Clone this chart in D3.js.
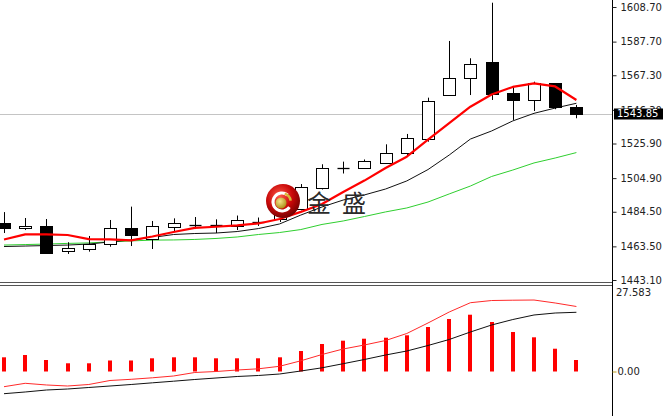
<!DOCTYPE html>
<html><head><meta charset="utf-8">
<script src="https://cdn.jsdelivr.net/npm/d3@7"></script>
<style>html,body{margin:0;padding:0;background:#fff;overflow:hidden}</style>
</head><body>
<svg id="c" width="663" height="416"></svg>
<script>
// ---- data ----
const open  = [1477.9,1474.5,1476.0,1460.3,1462.1,1464.8,1474.8,1468.4,1475.3,1476.3,1476.7,1475.3,1478.0,1480.1,1486.5,1499.1,1511.0,1510.9,1514.4,1520.0,1528.5,1555.3,1565.5,1575.5,1556.5,1552.3,1562.4,1547.9];
const high  = [1484.3,1480.7,1480.1,1466.0,1469.8,1479.5,1487.6,1478.9,1480.5,1481.3,1479.9,1482.2,1481.0,1486.8,1501.3,1513.3,1514.9,1516.2,1525.4,1531.7,1553.7,1588.1,1577.6,1611.3,1560.8,1563.4,1562.4,1549.3];
const low   = [1471.6,1473.4,1458.9,1458.9,1460.3,1463.3,1463.7,1461.9,1472.8,1474.0,1471.6,1473.4,1475.9,1478.3,1485.3,1498.0,1507.7,1510.7,1514.3,1518.1,1527.0,1555.3,1555.3,1552.3,1540.2,1545.6,1546.7,1541.2];
const close = [1474.7,1476.0,1459.9,1462.3,1464.9,1474.8,1470.4,1476.0,1477.5,1476.9,1476.2,1479.2,1478.6,1484.4,1499.8,1511.2,1511.4,1515.2,1520.3,1529.2,1551.7,1565.5,1574.1,1555.9,1552.3,1562.4,1547.6,1543.85];
const maRed   = [1467.7,1470.8,1470.8,1470.4,1467.9,1467.7,1467.1,1469.5,1472.2,1474.7,1475.4,1476.2,1477.4,1480.1,1484.4,1489.2,1496.5,1503.4,1511.0,1517.9,1528.2,1538.3,1548.2,1555.6,1560.2,1562.4,1560.5,1552.3];
const maBlack = [1463.4,1463.7,1464.0,1464.3,1464.9,1466.2,1467.4,1468.9,1470.7,1471.3,1471.6,1472.5,1474.3,1477.1,1482.5,1487.4,1491.6,1494.7,1498.3,1503.2,1510.1,1518.9,1528.6,1533.5,1539.6,1544.2,1547.4,1550.3];
const maGreen = [1464.3,1464.6,1464.9,1465.3,1465.6,1466.2,1466.8,1467.3,1467.4,1467.7,1468.3,1469.2,1470.7,1471.9,1473.7,1476.8,1478.9,1481.6,1484.4,1486.8,1490.4,1495.3,1500.1,1505.9,1509.8,1514.1,1517.1,1520.4];
const oscBars  = [4.58,5.32,3.71,2.65,2.65,3.55,3.55,4.26,4.58,4.58,4.26,4.26,4.26,4.58,6.61,8.87,9.94,10.58,10.90,11.68,14.35,16.94,18.32,15.97,12.74,11.03,7.35,3.71];
const oscRed   = [-4.90,-3.81,-4.35,-4.68,-4.19,-2.90,-2.52,-2.03,-1.45,-0.32,0.00,0.48,0.87,1.68,3.45,5.48,7.26,8.55,10.0,12.26,15.65,19.19,22.19,22.90,23.0,23.06,22.10,20.97];
const oscBlack = [-7.16,-6.61,-5.97,-5.65,-5.16,-4.68,-4.19,-3.65,-3.13,-2.58,-2.10,-1.61,-1.29,-0.81,0.16,1.19,2.52,3.87,5.32,6.61,8.39,10.32,12.74,15.0,16.77,18.23,18.87,19.10];
const priceTicks = [1608.70,1587.70,1567.30,1546.30,1525.90,1504.90,1484.50,1463.50,1443.10];
const oscTicks = [0.00];
const oscMaxLabel = "27.583";
const lastPrice = 1543.85;
const logoText = ["金","盛"];

// ---- drawing ----
const svg = d3.select("#c");
const axisX = 612.5;
const idx = d3.range(open.length);
const x = d3.scaleLinear().domain([0, open.length-1]).range([4, 576.4]);
const y = d3.scaleLinear().domain([1443.1, 1608.7]).range([280, 7]);
const yo = d3.scaleLinear().domain([0, 27.583]).range([371.5, 286]);
const font = "DejaVu Sans, Verdana, sans-serif";
const fs = 10;

const defs = svg.append("defs");
defs.append("clipPath").attr("id","cpTop").append("rect").attr("x",0).attr("y",0).attr("width",axisX).attr("height",282);
defs.append("clipPath").attr("id","cpBot").append("rect").attr("x",0).attr("y",286).attr("width",axisX).attr("height",130);

// current price line
svg.append("line").attr("x1",0).attr("x2",axisX).attr("y1",Math.round(y(lastPrice))+0.5).attr("y2",Math.round(y(lastPrice))+0.5)
  .attr("stroke","#c4c4c4").attr("stroke-width",1);

const gTop = svg.append("g").attr("clip-path","url(#cpTop)");
const line = arr => d3.line().x((d,i)=>x(i)).y(d=>y(d))(arr);
gTop.append("path").attr("d",line(maGreen)).attr("fill","none").attr("stroke","#2fcf2f").attr("stroke-width",1);
gTop.append("path").attr("d",line(maBlack)).attr("fill","none").attr("stroke","#111").attr("stroke-width",1);

// candles
const bw = 12;
idx.forEach(i=>{
  const cx = Math.round(x(i))+0.5;
  gTop.append("line").attr("x1",cx).attr("x2",cx).attr("y1",y(high[i])).attr("y2",y(low[i]))
    .attr("stroke","#000").attr("stroke-width",1);
  const t = Math.min(y(open[i]), y(close[i])), b = Math.max(y(open[i]), y(close[i]));
  if (b - t < 1.2) {
    gTop.append("line").attr("x1",cx-bw/2).attr("x2",cx+bw/2).attr("y1",Math.round((t+b)/2)+0.5).attr("y2",Math.round((t+b)/2)+0.5)
      .attr("stroke","#000").attr("stroke-width",1.3);
  } else {
    gTop.append("rect").attr("x",cx-bw/2).attr("y",Math.round(t)+0.5).attr("width",bw).attr("height",Math.max(1,Math.round(b-t)))
      .attr("fill", close[i] < open[i] ? "#000" : "#fff").attr("stroke","#000").attr("stroke-width",1);
  }
});
gTop.append("path").attr("d",line(maRed)).attr("fill","none").attr("stroke","#ff0000").attr("stroke-width",2.2).attr("stroke-linejoin","round");

// logo watermark
const lg = svg.append("g");
const rg = defs.append("radialGradient").attr("id","rg").attr("cx","40%").attr("cy","35%").attr("r","70%");
rg.append("stop").attr("offset","0%").attr("stop-color","#ff5a4a");
rg.append("stop").attr("offset","55%").attr("stop-color","#c80808");
rg.append("stop").attr("offset","100%").attr("stop-color","#6a0000");
const gg = defs.append("radialGradient").attr("id","gg").attr("cx","40%").attr("cy","35%").attr("r","70%");
gg.append("stop").attr("offset","0%").attr("stop-color","#f6e58a");
gg.append("stop").attr("offset","100%").attr("stop-color","#a88a10");
const lcx = 283, lcy = 201;
lg.append("circle").attr("cx",lcx).attr("cy",lcy).attr("r",17).attr("fill","url(#rg)");
lg.append("path").attr("transform",`translate(${lcx-1},${lcy+1})`)
  .attr("d", d3.arc().innerRadius(7.5).outerRadius(10.5).startAngle(Math.PI*0.5+0.6).endAngle(Math.PI*2.5-0.9)())
  .attr("fill","#fff");
lg.append("path").attr("transform",`translate(${lcx-1},${lcy+1})`)
  .attr("d", d3.arc().innerRadius(7.5).outerRadius(10).startAngle(Math.PI*0.1).endAngle(Math.PI*0.45)())
  .attr("fill","#d9b93a");
lg.append("circle").attr("cx",lcx-2).attr("cy",lcy+2).attr("r",5.5).attr("fill","url(#gg)");
const lt = lg.append("text").attr("y",212).attr("font-family","Noto Sans CJK SC").attr("font-size",24).attr("fill","#2a2a2a");
lt.append("tspan").attr("x",307).text(logoText[0]);
lt.append("tspan").attr("x",342).text(logoText[1]);

// separators
[282.5, 285.5].forEach(v=>svg.append("line").attr("x1",0).attr("x2",axisX).attr("y1",v).attr("y2",v).attr("stroke","#555").attr("stroke-width",1));

// bottom panel
const gBot = svg.append("g").attr("clip-path","url(#cpBot)");
idx.forEach(i=>{
  const cx = Math.round(x(i));
  gBot.append("rect").attr("x",cx-2).attr("y",yo(oscBars[i])).attr("width",4).attr("height",yo(0)-yo(oscBars[i]))
    .attr("fill","#ff0000");
});
const lineO = arr => d3.line().x((d,i)=>x(i)).y(d=>yo(d))(arr);
gBot.append("path").attr("d",lineO(oscRed)).attr("fill","none").attr("stroke","#ff2a2a").attr("stroke-width",1);
gBot.append("path").attr("d",lineO(oscBlack)).attr("fill","none").attr("stroke","#111").attr("stroke-width",1);

// right axis
svg.append("line").attr("x1",axisX).attr("x2",axisX).attr("y1",0).attr("y2",416).attr("stroke","#000").attr("stroke-width",1);
const axTop = d3.axisRight(y).tickValues(priceTicks).tickFormat(d3.format(".2f")).tickSize(4).tickPadding(4);
const gA = svg.append("g").attr("transform",`translate(${axisX},0)`).call(axTop);
gA.select(".domain").remove();
gA.selectAll("text").attr("font-family",font).attr("font-size",fs).attr("fill","#222");
gA.selectAll("line").attr("stroke","#222");

const axBot = d3.axisRight(yo).tickValues(oscTicks).tickFormat(d3.format(".2f")).tickSize(4).tickPadding(1);
const gB = svg.append("g").attr("transform",`translate(${axisX},0)`).call(axBot);
gB.select(".domain").remove();
gB.selectAll("text").attr("font-family",font).attr("font-size",fs).attr("fill","#222");
gB.selectAll("line").attr("stroke","#b9a020");
svg.append("text").attr("x",616).attr("y",292).attr("dy","0.35em").attr("font-family",font).attr("font-size",fs).attr("fill","#222").text(oscMaxLabel);

// last price label
const ly = y(lastPrice);
svg.append("rect").attr("x",614).attr("y",Math.round(ly)-5.5).attr("width",49).attr("height",11).attr("fill","#000");
svg.append("text").attr("x",617).attr("y",ly).attr("dy","0.35em").attr("font-family",font).attr("font-size",fs).attr("fill","#fff").text(d3.format(".2f")(lastPrice));
</script>
</body></html>
